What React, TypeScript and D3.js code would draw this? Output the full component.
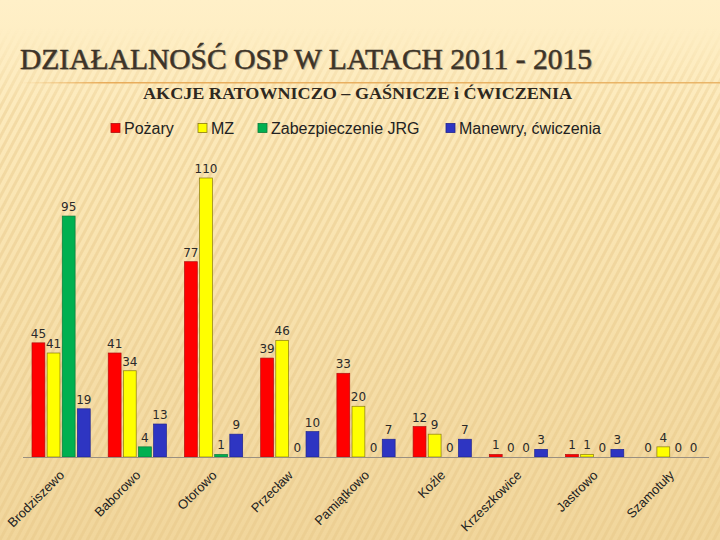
import React from "react";
import * as d3 from "d3";

const categories = ["Brodziszewo", "Baborowo", "Otorowo", "Przecław", "Pamiątkowo", "Koźle", "Krzeszkowice", "Jastrowo", "Szamotuły"];
const seriesNames = ["Pożary", "MZ", "Zabezpieczenie JRG", "Manewry,  ćwiczenia"];
const pozary = [45, 41, 77, 39, 33, 12, 1, 1, 0];
const mz = [41, 34, 110, 46, 20, 9, 0, 1, 4];
const jrg = [95, 4, 1, 0, 0, 0, 0, 0, 0];
const manewry = [19, 13, 9, 10, 7, 7, 3, 3, 0];
const seriesColors = ["#ff0000", "#ffff00", "#00b050", "#2e35c2"];
const seriesStrokes = ["#b01010", "#8a7a10", "#0a7a3a", "#1e2490"];

const title = "DZIAŁALNOŚĆ OSP W LATACH 2011 - 2015";
const subtitle = "AKCJE  RATOWNICZO – GAŚNICZE i ĆWICZENIA";

const W = 720;
const H = 540;
const SERIF = "'Liberation Serif', 'Times New Roman', Times, serif";

export default function App() {
  const values = [pozary, mz, jrg, manewry];
  const x0 = d3.scaleBand<string>().domain(categories).range([23, 709]).paddingInner(0).paddingOuter(0);
  const bw = x0.bandwidth();
  const x1 = d3.scaleBand<string>().domain(seriesNames).range([9, bw - 9]).paddingInner(0.15).paddingOuter(0);
  const y = d3.scaleLinear().domain([0, 110]).range([457, 178]);

  const legendX = [111, 198, 258, 446];

  return (
    <div style={{ position: "fixed", left: 0, top: 0 }}>
      <svg width={W} height={H} viewBox={`0 0 ${W} ${H}`} style={{ display: "block" }}>
        <defs>
          <linearGradient id="bg" x1="0" y1="0" x2="0" y2="1">
            <stop offset="0" stopColor="#fff0c8" />
            <stop offset="0.3" stopColor="#fbe7b6" />
            <stop offset="1" stopColor="#f1d69c" />
          </linearGradient>
          <pattern id="stripes" width="7" height="7" patternUnits="userSpaceOnUse" patternTransform="rotate(28)">
            <rect x="0" y="0" width="3" height="7" fill="#e6c585" />
          </pattern>
          <linearGradient id="fadeMask" x1="0" y1="0" x2="0" y2="1">
            <stop offset="0" stopColor="#000" />
            <stop offset="0.05" stopColor="#000" />
            <stop offset="0.2" stopColor="#fff" />
            <stop offset="1" stopColor="#fff" />
          </linearGradient>
          <mask id="m">
            <rect x="0" y="0" width={W} height={H} fill="url(#fadeMask)" />
          </mask>
          <linearGradient id="rule" x1="0" y1="0" x2="1" y2="0">
            <stop offset="0" stopColor="#e8a850" stopOpacity="0" />
            <stop offset="0.12" stopColor="#e6a550" stopOpacity="0.9" />
            <stop offset="1" stopColor="#e8b060" stopOpacity="0.9" />
          </linearGradient>
        </defs>
        <rect x="0" y="0" width={W} height={H} fill="url(#bg)" />
        <rect x="0" y="0" width={W} height={H} fill="url(#stripes)" opacity="0.4" mask="url(#m)" />

        {/* Title */}
        <g style={{ fontFamily: SERIF }}>
          <text x={21.2} y={70.2} fontSize={29} fill="#cdbb98" textLength={572} lengthAdjust="spacingAndGlyphs">{title}</text>
          <text x={20} y={69} fontSize={29} fill="#3d3428" stroke="#3d3428" strokeWidth={0.5} textLength={572} lengthAdjust="spacingAndGlyphs">{title}</text>
          <text x={143} y={99} fontSize={16} fontWeight="bold" fill="#2e2820" textLength={429} lengthAdjust="spacingAndGlyphs">{subtitle}</text>
        </g>
        <rect x={20} y={82} width={700} height={1.5} fill="url(#rule)" />

        {/* Legend */}
        {seriesNames.map((s, i) => (
          <g key={s}>
            <rect x={legendX[i]} y={123.5} width={9} height={9} fill={seriesColors[i]} stroke={seriesStrokes[i]} strokeWidth={0.8} />
            <text x={legendX[i] + 13} y={134} fontFamily="Liberation Sans, Arial, sans-serif" fontSize={16} fill="#222">{s}</text>
          </g>
        ))}

        {/* Bars */}
        {categories.map((c, ci) => (
          <g key={c} transform={`translate(${x0(c)},0)`}>
            {seriesNames.map((s, si) => {
              const v = values[si][ci];
              const bx = x1(s)!;
              return (
                <g key={s}>
                  {v > 0 && (
                    <rect x={bx} y={y(v)} width={x1.bandwidth()} height={y(0) - y(v)} fill={seriesColors[si]} stroke={seriesStrokes[si]} strokeWidth={0.7} />
                  )}
                  <text x={bx + x1.bandwidth() / 2} y={y(v) - 5} textAnchor="middle" fontFamily="DejaVu Sans, Verdana, sans-serif" fontSize={12} fill="#2a2a2a">{v}</text>
                </g>
              );
            })}
          </g>
        ))}

        {/* Axis */}
        <line x1={23} x2={709} y1={457.5} y2={457.5} stroke="#9a9080" strokeWidth={1} />
        {categories.map((c) => {
          const cx = x0(c)! + bw / 2 + 4;
          return (
            <text key={c} x={cx} y={476} transform={`rotate(-45 ${cx} 476)`} textAnchor="end" fontFamily="Liberation Sans, Arial, sans-serif" fontSize={13} fill="#222">{c}</text>
          );
        })}
      </svg>
    </div>
  );
}
